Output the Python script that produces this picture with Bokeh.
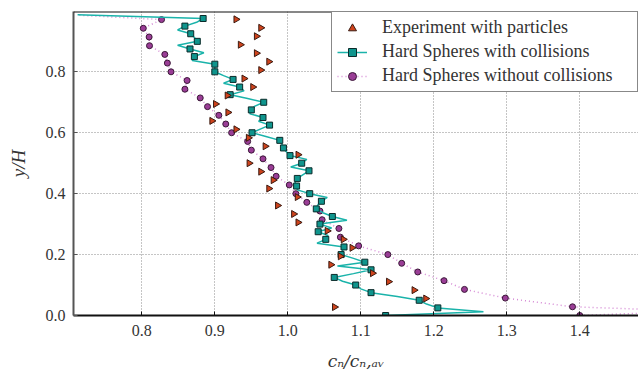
import math
from bokeh.plotting import figure
from bokeh.models import Legend, LegendItem, Span, FixedTicker, Range1d, PrintfTickFormatter, ColumnDataSource
from bokeh.embed import file_html
from bokeh.resources import INLINE

# ---- data ----
# Experiment with particles
exp_y = [0.0278, 0.0556, 0.0833, 0.1111, 0.1389, 0.1667, 0.1944, 0.2222, 0.25, 0.2778,
         0.3056, 0.3333, 0.3611, 0.3889, 0.4167, 0.4444, 0.4722, 0.5, 0.5278, 0.5556,
         0.5833, 0.6111, 0.6389, 0.6667, 0.6944, 0.7222, 0.75, 0.7778, 0.8056, 0.8333,
         0.8611, 0.8889, 0.9167, 0.9444, 0.9722]
exp_x = [1.064, 1.189, 1.173, 1.138, 1.116, 1.059, 1.072, 1.088, 1.076, 1.054,
         1.014, 1.008, 0.986, 1.013, 0.974, 0.980, 0.963, 0.947, 1.014, 0.969,
         0.946, 0.929, 0.896, 0.918, 0.901, 0.917, 0.952, 0.940, 0.963, 0.974,
         0.957, 0.935, 0.957, 0.963, 0.929]

# Hard Spheres with collisions (full line; markers on every second point)
coll_y = [0.0, 0.0125, 0.025, 0.0375, 0.05, 0.0625, 0.075, 0.0875, 0.1, 0.1125,
          0.125, 0.1375, 0.15, 0.1625, 0.175, 0.1875, 0.2, 0.2125, 0.225, 0.2375,
          0.25, 0.2625, 0.275, 0.2875, 0.3, 0.3125, 0.325, 0.3375, 0.35, 0.3625,
          0.375, 0.3875, 0.4, 0.4125, 0.425, 0.4375, 0.45, 0.4625, 0.475, 0.4875,
          0.5, 0.5125, 0.525, 0.5375, 0.55, 0.5625, 0.575, 0.5875, 0.6, 0.6125,
          0.625, 0.6375, 0.65, 0.6625, 0.675, 0.6875, 0.7, 0.7125, 0.725, 0.7375,
          0.75, 0.7625, 0.775, 0.7875, 0.8, 0.8125, 0.825, 0.8375, 0.85, 0.8625,
          0.875, 0.8875, 0.9, 0.9125, 0.925, 0.9375, 0.95, 0.9625, 0.975, 0.9875]
coll_x = [1.134, 1.268, 1.2055, 1.190, 1.180, 1.150, 1.114, 1.100, 1.093, 1.075,
          1.0636, 1.090, 1.114, 1.068, 1.1055, 1.090, 1.073, 1.075, 1.077, 1.040,
          1.052, 1.055, 1.0416, 1.060, 1.044, 1.081, 1.061, 1.048, 1.039, 1.041,
          1.046, 1.054, 1.030, 1.013, 1.012, 1.010, 1.013, 1.021, 1.029, 1.004,
          1.019, 1.026, 1.003, 0.998, 0.994, 0.992, 0.989, 0.970, 0.951, 0.963,
          0.975, 0.960, 0.966, 0.948, 0.950, 0.955, 0.967, 0.945, 0.921, 0.940,
          0.934, 0.912, 0.925, 0.912, 0.900, 0.900, 0.900, 0.869, 0.872, 0.885,
          0.866, 0.849, 0.876, 0.872, 0.867, 0.849, 0.859, 0.875, 0.884, 0.712]

# Hard Spheres without collisions (markers)
nocoll_y = [0.0, 0.0286, 0.0571, 0.0857, 0.1143, 0.1429, 0.1714, 0.2, 0.2286, 0.2571,
            0.2857, 0.3143, 0.3429, 0.3714, 0.4, 0.4286, 0.4571, 0.4857, 0.5143, 0.5429,
            0.5714, 0.6, 0.6286, 0.6571, 0.6857, 0.7143, 0.7429, 0.7714, 0.8, 0.8286,
            0.8571, 0.8857, 0.9143, 0.9429, 0.9714]
nocoll_x = [1.400, 1.390, 1.298, 1.242, 1.214, 1.178, 1.156, 1.137, 1.097, 1.072,
            1.070, 1.047, 1.044, 1.026, 1.011, 1.002, 0.984, 0.977, 0.966, 0.950,
            0.945, 0.923, 0.915, 0.9055, 0.890, 0.880, 0.859, 0.862, 0.840, 0.835,
            0.8315, 0.8105, 0.810, 0.802, 0.827]
# extra line vertices without markers (bottom one lies beyond the right edge)
nocoll_bottom_extra = (1.56, 0.0143)
nocoll_top_extra = (0.714, 0.9857)

x_ticks = [0.8, 0.9, 1.0, 1.1, 1.2, 1.3, 1.4]
y_ticks = [0.0, 0.2, 0.4, 0.6, 0.8]

nocoll_line_x = [nocoll_x[0], nocoll_bottom_extra[0]] + nocoll_x[1:] + [nocoll_top_extra[0]]
nocoll_line_y = [nocoll_y[0], nocoll_bottom_extra[1]] + nocoll_y[1:] + [nocoll_top_extra[1]]

SERIF = "Liberation Serif"

# ---- figure ----
p = figure(width=638, height=373, output_backend="svg", toolbar_location=None,
           x_range=Range1d(0.7064, 1.4804), y_range=Range1d(0.0, 0.998),
           min_border_left=73, min_border_right=0, min_border_top=11, min_border_bottom=56)
p.outline_line_color = None
p.background_fill_color = "white"
p.border_fill_color = "white"

for ax, tk in ((p.xaxis, x_ticks), (p.yaxis, y_ticks)):
    ax.ticker = FixedTicker(ticks=tk)
    ax.formatter = PrintfTickFormatter(format="%.1f")
    ax.minor_tick_line_color = None
    ax.major_tick_in = 4
    ax.major_tick_out = 0
    ax.major_label_text_font = SERIF
    ax.major_label_text_font_size = "16px"
    ax.major_label_text_color = "#333333"
    ax.axis_line_width = 2
    ax.axis_label_text_font_style = "italic"
    ax.axis_label_text_color = "#333333"
p.xaxis.axis_line_color = "#111111"
p.xaxis.major_tick_line_color = "#111111"
p.yaxis.axis_line_color = "#555555"
p.yaxis.major_tick_line_color = "#555555"
p.xaxis.major_label_standoff = 9
p.yaxis.major_label_standoff = 8

p.yaxis.axis_label = "y/H"
p.yaxis.axis_label_text_font = SERIF
p.yaxis.axis_label_text_font_size = "19px"
p.yaxis.axis_label_standoff = 14
p.xaxis.axis_label = "c\u2099/c\u2099,\u2090\u1d65"
p.xaxis.axis_label_text_font = "DejaVu Serif"
p.xaxis.axis_label_text_font_size = "17px"
p.xaxis.axis_label_standoff = 12

p.xgrid.ticker = FixedTicker(ticks=x_ticks)
p.ygrid.ticker = FixedTicker(ticks=y_ticks)
for g in (p.xgrid, p.ygrid):
    g.grid_line_color = "#8a8a8a"
    g.grid_line_dash = "1 2"
    g.grid_line_width = 1

p.add_layout(Span(location=0.998, dimension="width", line_color="#111111", line_width=2))

# Hard spheres without collisions
r_nc_line = p.line(nocoll_line_x, nocoll_line_y, line_color="#d58ad5", line_width=1.5, line_dash="1 3")
r_nc_pts = p.scatter(nocoll_x, nocoll_y, marker="circle", size=6, fill_color="#9a3d96",
                     line_color="#3b1838", line_width=1)

# Hard spheres with collisions
r_c_line = p.line(coll_x, coll_y, line_color="#1ab3aa", line_width=1.5)
r_c_pts = p.scatter(coll_x[::2], coll_y[::2], marker="square", size=6, fill_color="#0f958d",
                    line_color="#0b2b2a", line_width=1)

# Experiment (right-pointing triangles)
exp_src = ColumnDataSource(dict(x=exp_x, y=exp_y, ang=[-math.pi / 2] * len(exp_x)))
r_exp = p.scatter("x", "y", source=exp_src, marker="triangle", angle="ang", size=7,
                  fill_color="#cf431c", line_color="#3a1a10", line_width=1)

legend = Legend(items=[
    LegendItem(label="Experiment with particles", renderers=[r_exp], index=0),
    LegendItem(label="Hard Spheres with collisions", renderers=[r_c_line, r_c_pts]),
    LegendItem(label="Hard Spheres without collisions", renderers=[r_nc_line, r_nc_pts]),
], location="top_right")
legend.margin = 0
legend.padding = 5
legend.spacing = 3
legend.glyph_width = 30
legend.glyph_height = 20
legend.label_standoff = 15
legend.label_width = 250
legend.label_text_font = SERIF
legend.label_text_font_size = "18px"
legend.label_text_color = "#333333"
legend.border_line_color = "#111111"
legend.border_line_width = 1.5
legend.background_fill_alpha = 1.0
p.add_layout(legend)

open("out.html", "w").write(file_html(p, INLINE))
